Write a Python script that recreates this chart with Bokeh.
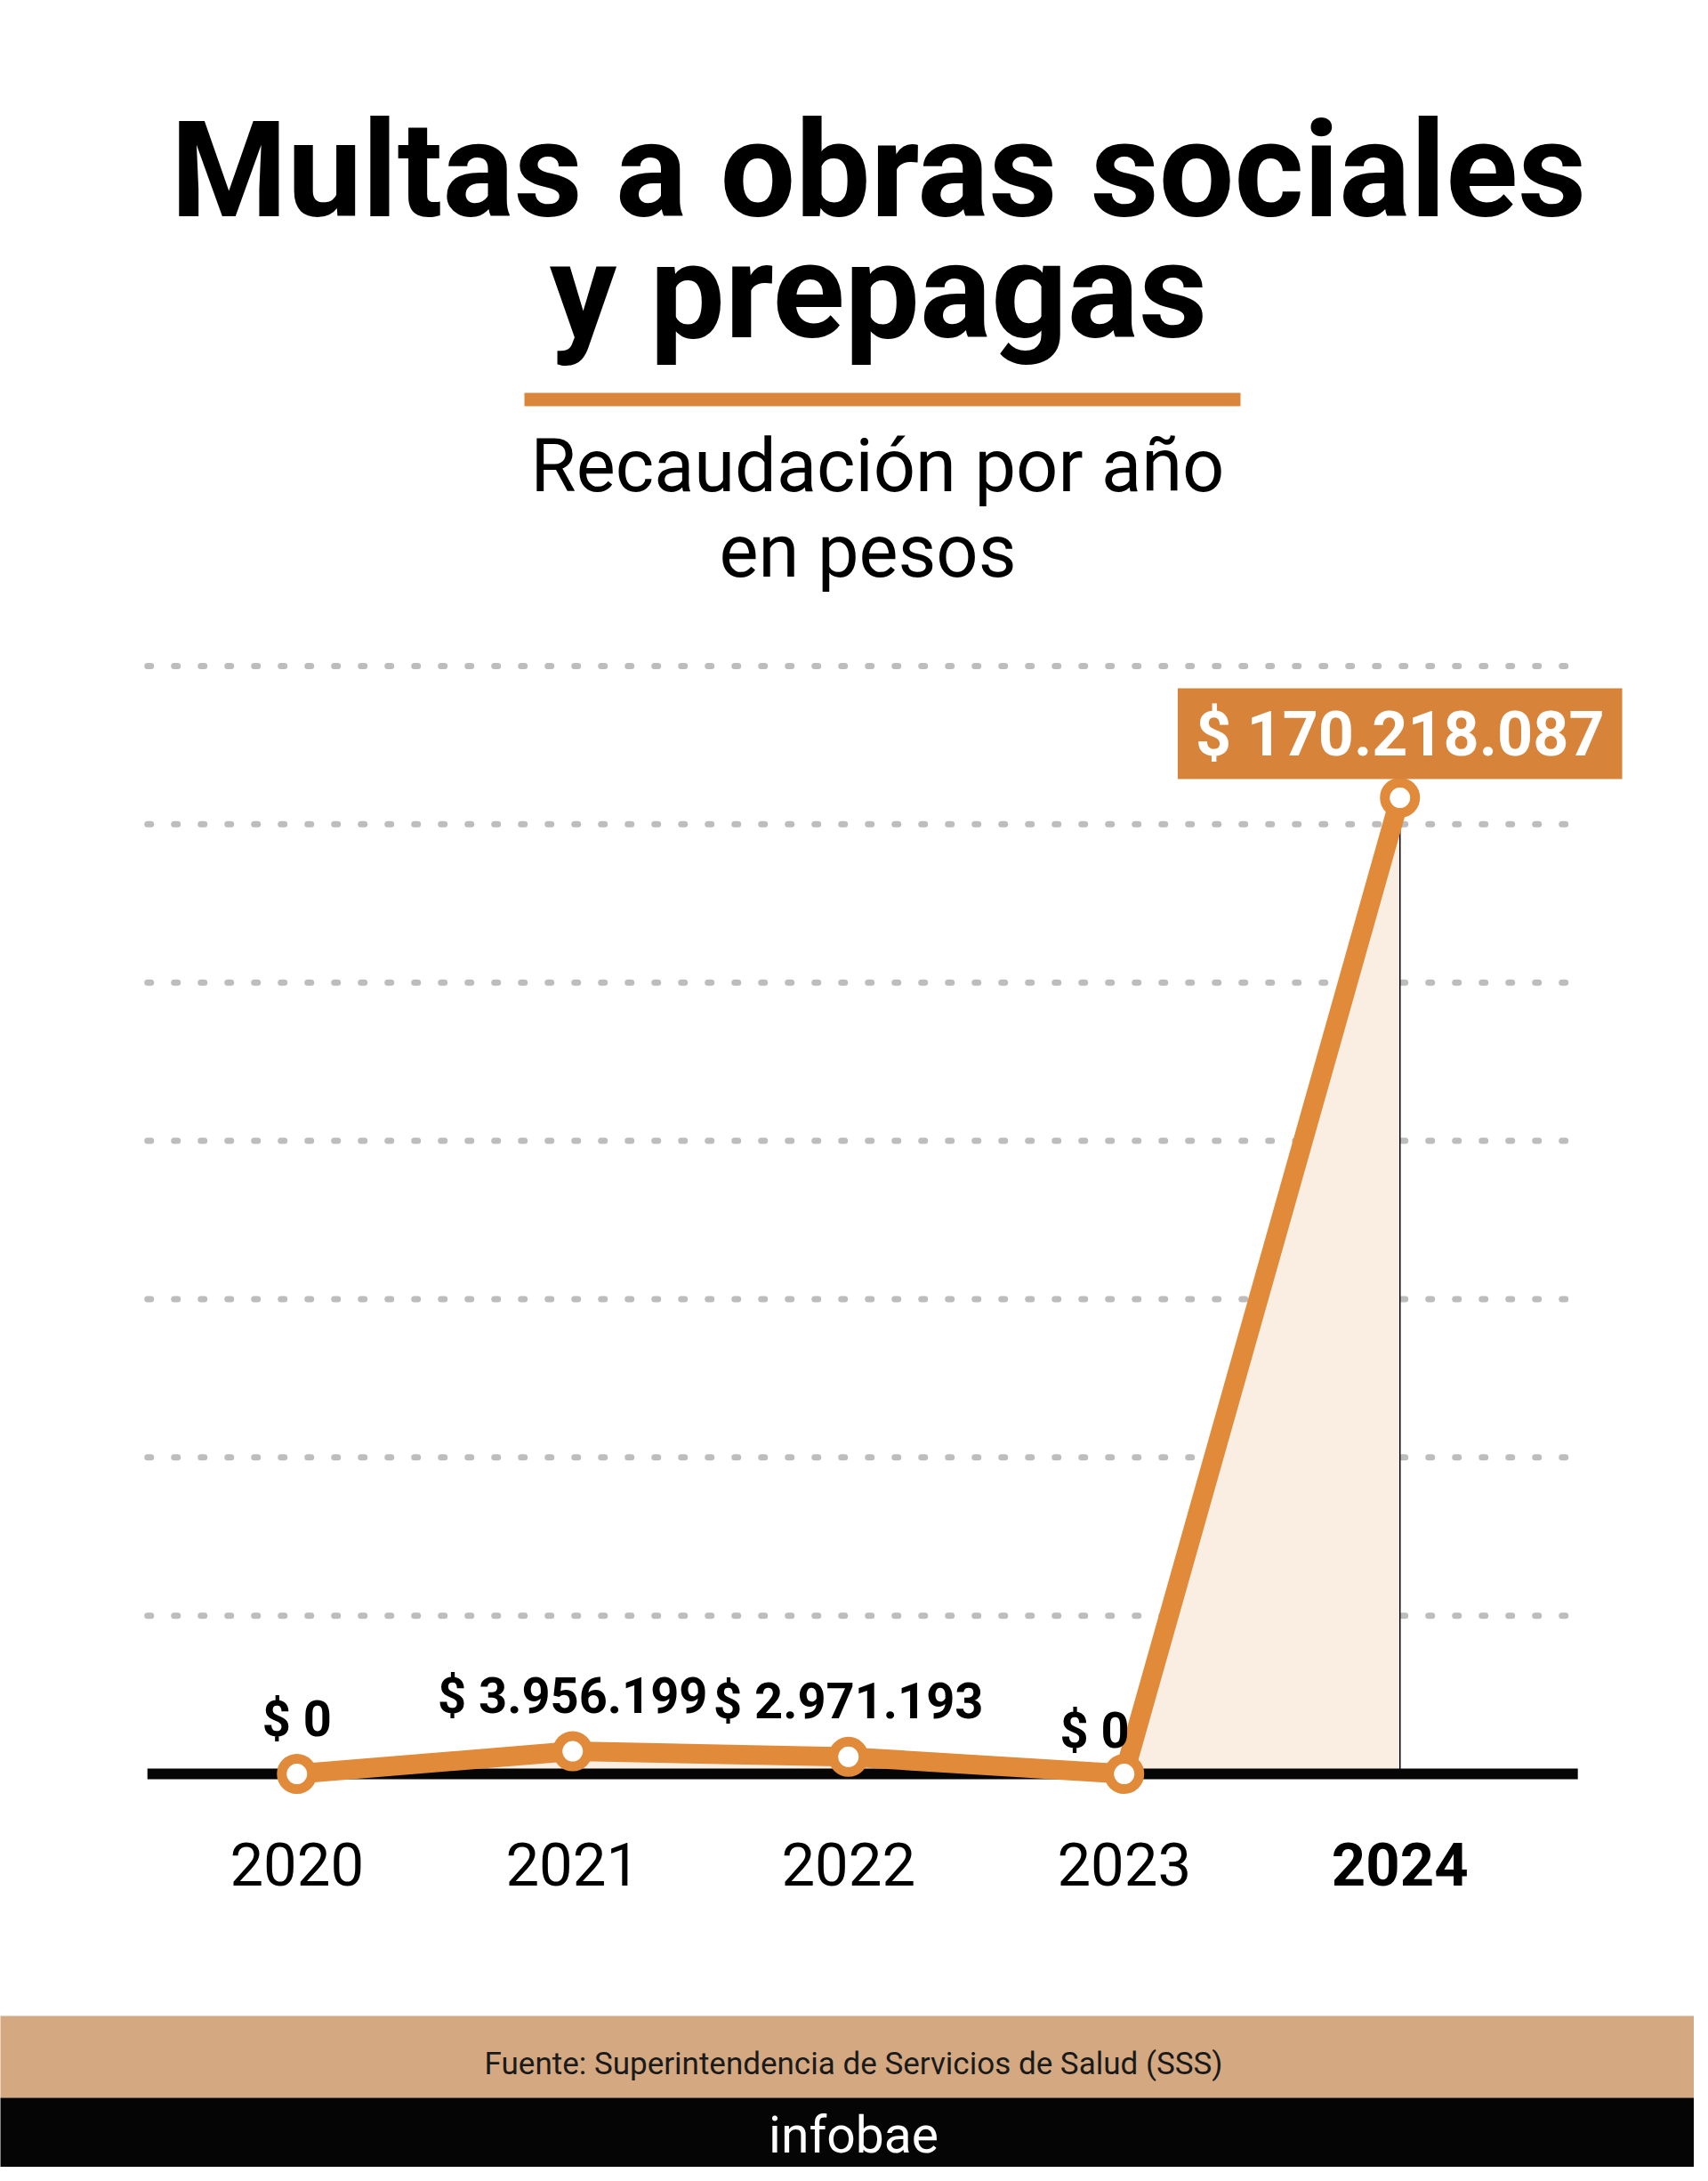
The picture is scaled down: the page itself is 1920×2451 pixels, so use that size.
from bokeh.plotting import figure
from bokeh.models import ColumnDataSource, Range1d, Label, BoxAnnotation
from bokeh.embed import file_html
from bokeh.resources import INLINE
from bokeh.core.properties import value

# ---------------- data ----------------
years = [2020, 2021, 2022, 2023, 2024]
year_labels = ["2020", "2021", "2022", "2023", "2024"]
recaudacion = [0, 3956199, 2971193, 0, 170218087]

title_lines = ["Multas a obras sociales", "y prepagas"]
subtitle_lines = ["Recaudación por año", "en pesos"]
source_text = "Fuente: Superintendencia de Servicios de Salud (SSS)"
brand_text = "infobae"

# ---------------- style ----------------
ORANGE = "#E08A3A"
BOX_ORANGE = "#D7843A"
UNDERLINE = "#D9863A"
FILL = "#FAEEE3"
TAN = "#D4A981"
GRID_COLOR = "#BDBDBD"
FONT = "Roboto"
GRID_STEP = 27.6e6
CHART_X0, CHART_X1 = 2019.458, 2024.645   # horizontal extent of the chart area

W, H = 1904, 2435

def fmt(v):
    return "$ " + f"{v:,}".replace(",", ".")

p = figure(width=W, height=H, output_backend="svg", toolbar_location=None,
           x_axis_location=None, y_axis_location=None,
           x_range=Range1d(2018.925, 2025.067), y_range=Range1d(-68.58e6, 309.25e6),
           min_border=0, background_fill_color="white", border_fill_color="white",
           outline_line_color=None)
p.grid.visible = False

n = len(years)
imax = recaudacion.index(max(recaudacion))
grid_y = [GRID_STEP * j for j in range(1, 8)]

# dotted gridlines
p.segment(x0=[CHART_X0] * len(grid_y), x1=[CHART_X1] * len(grid_y), y0=grid_y, y1=grid_y,
          line_color=GRID_COLOR, line_width=7, line_dash="4 26", line_cap="round")

src = ColumnDataSource(dict(x=years, y=recaudacion, lab=[fmt(v) for v in recaudacion],
                            ylab=year_labels, zero=[0] * n,
                            ystyle=["bold" if i == imax else "normal" for i in range(n)]))

# area under the line
p.varea(x="x", y1="zero", y2="y", source=src, fill_color=FILL)
# thin vertical guide at the maximum
p.segment(x0=[years[imax]], y0=[0], x1=[years[imax]], y1=[recaudacion[imax]],
          line_color="black", line_width=1.5)
# baseline
p.segment(x0=[CHART_X0], x1=[CHART_X1], y0=[0], y1=[0], line_color="#050505", line_width=12)
# line + markers
p.line(x="x", y="y", source=src, line_color=ORANGE, line_width=22, line_join="round")
p.scatter(x="x", y="y", source=src, marker="circle", size=34,
          fill_color="white", line_color=ORANGE, line_width=11)

# value labels (the point before the spike is right-aligned so it clears the line)
right_idx = [i for i in range(n) if i + 1 == imax]
center_idx = [i for i in range(n) if i != imax and i not in right_idx]
src_c = ColumnDataSource(dict(x=[years[i] for i in center_idx], y=[recaudacion[i] for i in center_idx],
                              lab=[fmt(recaudacion[i]) for i in center_idx]))
src_r = ColumnDataSource(dict(x=[years[i] for i in right_idx], y=[recaudacion[i] for i in right_idx],
                              lab=[fmt(recaudacion[i]) for i in right_idx]))
p.text(x="x", y="y", text="lab", source=src_c, text_font=value(FONT), text_font_style="bold",
       text_font_size="56px", text_color="black", text_align="center",
       text_baseline="alphabetic", y_offset=-62)
p.text(x="x", y="y", text="lab", source=src_r, text_font=value(FONT), text_font_style="bold",
       text_font_size="56px", text_color="black", text_align="right",
       text_baseline="alphabetic", y_offset=-49, x_offset=6)

# year labels
p.text(x="x", y="zero", text="ylab", source=src, text_font=value(FONT), text_font_style="ystyle",
       text_font_size="67px", text_color="black", text_align="center",
       text_baseline="alphabetic", y_offset=101)

# highlighted max label
p.add_layout(Label(x=years[imax], y=recaudacion[imax], text=fmt(recaudacion[imax]),
                   text_font=FONT, text_font_style="bold", text_font_size="70px",
                   text_color="white", text_align="center", text_baseline="middle",
                   y_offset=72, background_fill_color=BOX_ORANGE, padding=(20, 10)))

# ---------------- header / footer (screen units) ----------------
def sy(Y):
    return H - Y

for txt, Y in zip(title_lines, [191, 327]):
    p.add_layout(Label(x=987, y=sy(Y), x_units="screen", y_units="screen", text=txt,
                       text_font=FONT, text_font_style="bold", text_font_size="150px",
                       text_color="black", text_align="center", text_baseline="alphabetic"))

p.add_layout(BoxAnnotation(left=589, right=1394, top=sy(441), bottom=sy(456),
                           left_units="screen", right_units="screen", top_units="screen",
                           bottom_units="screen", fill_color=UNDERLINE, fill_alpha=1, line_color=None))

for txt, X, Y in zip(subtitle_lines, [986, 975], [523, 619]):
    p.add_layout(Label(x=X, y=sy(Y), x_units="screen", y_units="screen", text=txt,
                       text_font=FONT, text_font_size="83px", text_color="black",
                       text_align="center", text_baseline="alphabetic"))

p.add_layout(BoxAnnotation(left=-10, right=W + 10, top=sy(2265), bottom=sy(2357),
                           left_units="screen", right_units="screen", top_units="screen",
                           bottom_units="screen", fill_color=TAN, fill_alpha=1, line_color=None))
p.add_layout(BoxAnnotation(left=-10, right=W + 10, top=sy(2357), bottom=sy(2470),
                           left_units="screen", right_units="screen", top_units="screen",
                           bottom_units="screen", fill_color="#050505", fill_alpha=1, line_color=None))

p.add_layout(Label(x=959, y=sy(2319), x_units="screen", y_units="screen", text=source_text,
                   text_font=FONT, text_font_size="35px", text_color="#1a1a1a",
                   text_align="center", text_baseline="alphabetic"))
p.add_layout(Label(x=959, y=sy(2399), x_units="screen", y_units="screen", text=brand_text,
                   text_font=FONT, text_font_size="57px", text_color="white",
                   text_align="center", text_baseline="alphabetic"))

open("out.html", "w").write(file_html(p, INLINE))
